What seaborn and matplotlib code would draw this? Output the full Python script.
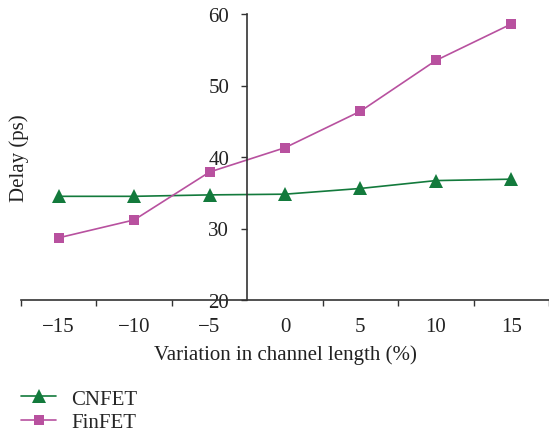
import pandas as pd
import matplotlib
matplotlib.use("Agg")
import matplotlib.pyplot as plt
import seaborn as sns
from matplotlib.lines import Line2D
from matplotlib.ticker import FixedLocator

# data
variation = ["\u221215", "\u221210", "\u22125", "0", "5", "10", "15"]
cnfet = [34.5, 34.5, 34.7, 34.8, 35.6, 36.7, 36.9]
finfet = [28.7, 31.2, 37.9, 41.3, 46.4, 53.5, 58.6]
y_ticks = [20, 30, 40, 50, 60]

green = "#137a3c"
magenta = "#b8519f"
fs = 15

sns.set_style("white")
plt.rcParams["font.family"] = ["Liberation Serif", "DejaVu Serif"]

df = pd.DataFrame({"variation": variation * 2,
                   "delay": cnfet + finfet,
                   "device": ["CNFET"] * 7 + ["FinFET"] * 7})

fig = plt.figure(figsize=(5.49, 4.35), dpi=100)
ax = fig.add_axes([21 / 549, (435 - 301) / 435, 528 / 549, 286 / 435])

sns.lineplot(data=df[df.device == "CNFET"], x="variation", y="delay", ax=ax,
             color=green, marker="^", markersize=9.5, markeredgewidth=0,
             linewidth=1.2, sort=False)
sns.lineplot(data=df[df.device == "FinFET"], x="variation", y="delay", ax=ax,
             color=magenta, marker="s", markersize=7.5, markeredgewidth=0,
             linewidth=1.2, sort=False)

ax.set_xlim(-0.5, 6.5)
ax.set_ylim(20, 60)
ax.set_yticks(y_ticks)

# y axis crosses between -5 and 0
for s in ["top", "right"]:
    ax.spines[s].set_visible(False)
ax.spines["left"].set_position(("data", 2.5))
for s in ["left", "bottom"]:
    ax.spines[s].set_color("#333333")
    ax.spines[s].set_linewidth(1.2)

ax.xaxis.set_minor_locator(FixedLocator([i - 0.5 for i in range(8) if i != 3]))
ax.tick_params(axis="x", which="major", length=0, labelsize=fs, pad=12, colors="#222222")
ax.tick_params(axis="x", which="minor", length=4, width=1, color="#333333", direction="out", bottom=True)
ax.tick_params(axis="y", which="major", length=4, width=1, color="#333333", direction="out",
               labelsize=fs, pad=9, left=True, labelcolor="#222222")
ax.set_xlabel("")
ax.set_ylabel("")

fig.text(285 / 549, 1 - 355 / 435, "Variation in channel length (%)", ha="center", va="center",
         fontsize=fs, color="#222222")
fig.text(19 / 549, 1 - 158 / 435, "Delay (ps)", ha="center", va="center", rotation=90,
         fontsize=fs, color="#222222")

handles = [Line2D([], [], color=green, marker="^", markersize=9.5, markeredgewidth=0, linewidth=1.2),
           Line2D([], [], color=magenta, marker="s", markersize=7, markeredgewidth=0, linewidth=1.2)]
fig.legend(handles, ["CNFET", "FinFET"], loc="upper left", bbox_to_anchor=(21 / 549, 1 - 390 / 435),
           frameon=False, fontsize=fs, handlelength=1.7, labelspacing=0.2, handletextpad=0.7,
           borderpad=0, borderaxespad=0)

fig.savefig("out.png", dpi=100)
